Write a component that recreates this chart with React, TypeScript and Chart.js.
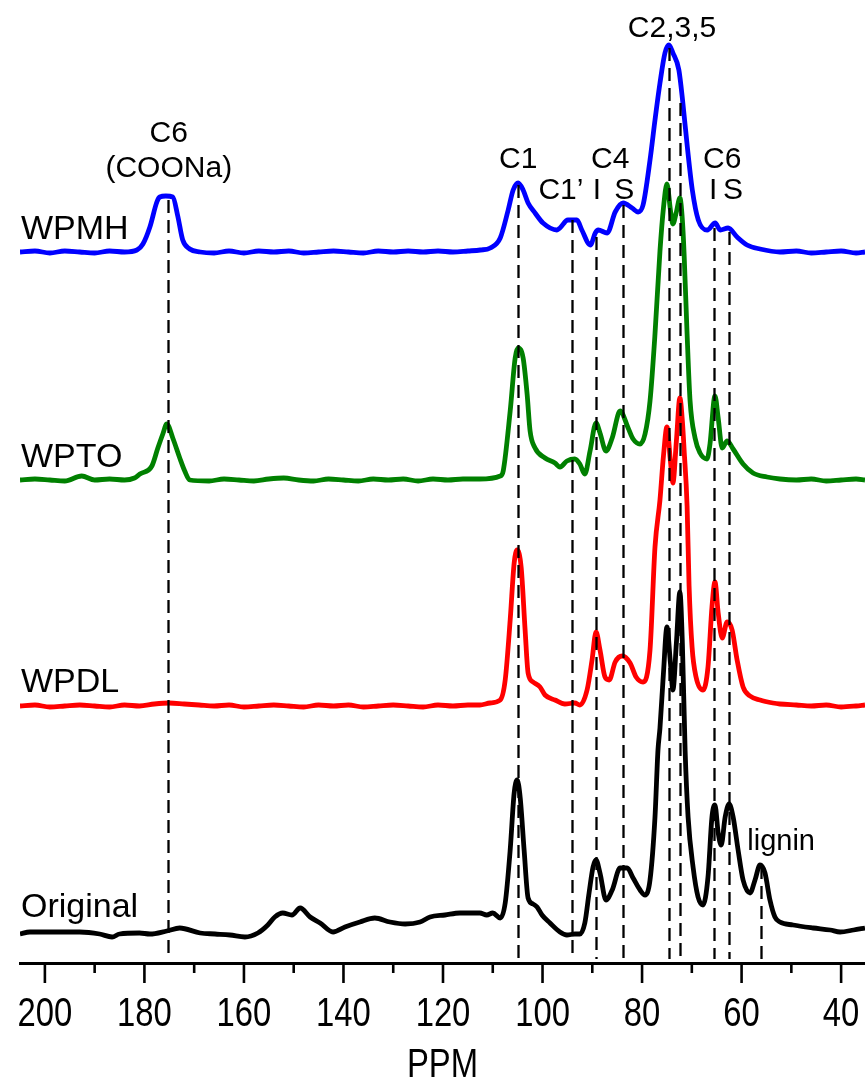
import React, { useEffect, useRef } from 'react';
import { Chart, registerables } from 'chart.js';

Chart.register(...registerables);

// ---------- axis ----------
const xMin = 35.2;
const xMax = 205;
const majorTicks = [200, 180, 160, 140, 120, 100, 80, 60, 40];
const minorTicks = [190, 170, 150, 130, 110, 90, 70, 50];
const axisTitle = 'PPM';

// ---------- series ----------
const seriesNames = ['WPMH', 'WPTO', 'WPDL', 'Original'];
const seriesColors = ['#0000ff', '#008000', '#ff0000', '#000000'];
const seriesOffsets = [711, 483, 257, 30];

const wpmhPpm = [205, 202, 199, 196, 193, 190, 187, 184, 181.5, 180.3, 178.9, 177.5, 176.9, 175.7, 174.3, 173.3, 172.3, 170.9, 168.8, 166, 163, 160, 157, 154, 151, 148, 145, 142, 139, 136, 133, 130, 127, 124, 121, 118, 115, 112.5, 110.5, 108.5, 106.9, 105.9, 104.9, 103.9, 102.9, 101.5, 99.9, 97.1, 96.5, 94.9, 93.1, 92.1, 90.4, 89.4, 88.8, 87.0, 85.4, 83.8, 82.0, 80.8, 79.8, 78.4, 77.4, 76.4, 75.4, 74.6, 73.8, 72.6, 71.8, 70.9, 69.9, 68.7, 66.9, 65.3, 64.3, 62.7, 60.9, 58.9, 56.3, 52.3, 49, 46, 43, 40, 37, 35.2];
const wpmhInt = [0, 1, -1, 1, 0, -1, 1, 0, 2, 8, 25, 50, 55, 56, 55, 36, 12, 3, 0, -1, 1, -1, 1, 0, 1, -1, 0, 1, 0, -1, 1, 0, 1, 0, 1, 0, 1, 2, 4, 14, 42, 62, 69, 62, 49, 39, 29, 22, 24, 32, 32, 22, 7, 19, 22, 19, 40, 49, 44, 40, 47, 92, 132, 169, 199, 207, 199, 182, 149, 105, 62, 32, 22, 29, 22, 24, 15, 7, 3, 0, 1, -1, 0, 1, -1, 0];

const wptoPpm = [205, 202, 199, 196, 192.6, 190, 187, 184, 182, 180.9, 178.5, 177.3, 176.3, 175.5, 174.3, 172.9, 171.9, 170.9, 167, 164, 161, 158, 155, 152, 149, 146, 143, 140, 137, 134, 131, 128, 125, 122, 119, 116, 112.6, 108.5, 107.9, 106.5, 105.5, 104.9, 103.9, 103.1, 102.5, 101.5, 99.5, 97.5, 96.5, 95.1, 93.5, 92.5, 91.5, 90.45, 89.25, 88.45, 87.25, 86.0, 84.4, 82.8, 81.8, 80.4, 79.4, 78.4, 77.4, 76.4, 75.7, 75.0, 74.3, 73.8, 73.1, 72.4, 71.9, 71.55, 70.95, 70.35, 69.35, 68.35, 66.95, 66.35, 65.35, 64.7, 63.9, 62.9, 61.7, 59.7, 57.7, 54.9, 52.3, 49, 46, 43, 40, 37, 35.2];
const wptoInt = [0, 1, 0, -1, 4, 0, 1, 0, 2, 6, 14, 32, 46, 56, 42, 22, 9, 0, -1, 1, 0, -1, 1, 2, 0, -1, 1, 0, -1, 1, 0, 1, -1, 1, 0, 1, 1, 4, 9, 69, 122, 132, 122, 86, 49, 32, 22, 17, 13, 19, 21, 16, 6, 29, 57, 47, 29, 42, 69, 52, 41, 36, 46, 79, 146, 229, 272, 296, 270, 256, 268, 282, 260, 226, 146, 79, 42, 27, 21, 36, 84, 62, 32, 39, 31, 16, 7, 3, 1, 0, 1, -1, 0, 1, 0];

const wpdlPpm = [205, 202, 199, 196, 193, 190, 187, 184, 181, 178, 175, 172, 169, 166, 163, 160, 157, 154, 151, 148, 145, 142, 139, 136, 133, 130, 127, 124, 121, 118, 115, 112.6, 110.55, 108.5, 107.5, 106.5, 105.7, 105.1, 104.3, 103.5, 102.9, 101.9, 100.5, 99.5, 97.5, 95.5, 93.5, 92.5, 91.05, 90.05, 89.25, 88.45, 87.45, 86.6, 85.4, 84.0, 82.4, 81.2, 79.8, 78.4, 77.4, 76.4, 75.7, 75.0, 74.3, 73.8, 73.1, 72.4, 71.9, 71.55, 70.95, 70.55, 69.95, 69.15, 67.75, 66.75, 65.95, 65.35, 64.7, 63.9, 62.9, 61.9, 60.9, 59.7, 58.3, 56.3, 53.7, 52.3, 49, 46, 43, 40, 37, 35.2];
const wpdlInt = [0, 1, -1, 0, 1, 0, -1, 1, 0, 2, 3, 2, 1, 0, 1, -1, 0, 1, 0, -1, 1, 0, 1, -1, 0, 1, 0, -1, 1, 0, 1, 1, 3, 6, 26, 86, 143, 156, 139, 76, 33, 24, 19, 11, 6, 2, 3, 1, 16, 46, 74, 56, 29, 26, 44, 50, 43, 29, 24, 56, 159, 206, 250, 279, 245, 223, 265, 308, 285, 256, 200, 120, 59, 29, 16, 39, 99, 124, 93, 68, 84, 76, 46, 19, 10, 6, 3, 2, 1, 0, 1, -1, 0, 1];

const origPpm = [205, 203, 199, 193, 189, 186.5, 185, 181, 178.9, 175.5, 172.9, 168.8, 165.8, 162.8, 159.8, 157.2, 155.2, 153.8, 152.2, 150.35, 148.7, 146.7, 144.7, 142.1, 139.7, 136.7, 133.7, 130.65, 127.6, 124.6, 122.6, 119.6, 116.6, 112.6, 111.2, 110, 108.5, 107.5, 106.5, 105.7, 105.1, 104.5, 103.7, 102.9, 101.9, 101.1, 100.1, 98.5, 96.5, 95.1, 93.5, 92.5, 91.5, 90.65, 89.85, 89.25, 88.45, 87.25, 86.0, 84.4, 83.0, 81.8, 80.4, 79.4, 78.4, 77.4, 76.8, 76.4, 75.7, 75.0, 74.3, 73.8, 73.1, 72.4, 71.9, 71.35, 70.75, 69.75, 68.75, 67.75, 66.75, 65.95, 65.35, 64.7, 64.1, 63.3, 62.5, 61.7, 60.7, 59.7, 58.3, 57.3, 56.3, 55.3, 54.3, 53.3, 52.3, 49.65, 45.6, 42.2, 40.2, 37.5, 35.2];
const origInt = [-1, 1, 1, 1, -1, -4, -1, 0, -1, 2, 5, 0, -1, -2, -4, 0, 8, 16, 20, 18, 25, 16, 10, 1, 6, 11, 15, 11, 9, 11, 16, 18, 20, 20, 18, 20, 15, 30, 83, 140, 153, 136, 83, 35, 29, 26, 18, 10, 1, -2, -1, -1, 10, 40, 66, 73, 60, 33, 43, 65, 65, 55, 43, 38, 53, 116, 183, 205, 260, 306, 270, 243, 290, 341, 290, 183, 116, 66, 36, 28, 56, 116, 128, 100, 88, 116, 129, 116, 83, 53, 40, 53, 68, 60, 33, 16, 11, 8, 5, 3, 1, 3, 5];

const seriesPpm = [wpmhPpm, wptoPpm, wpdlPpm, origPpm];
const seriesInt = [wpmhInt, wptoInt, wpdlInt, origInt];

// ---------- reference lines ----------
const dashPpm = [175.3, 105.0, 94.0, 89.2, 83.9, 74.6, 72.3, 65.5, 62.5, 56.0];
const dashTop = [763, 778, 743, 726, 758, 915, 860, 735, 731, 97];

// ---------- annotations ----------
const peakLabels = ['C6', '(COONa)', 'C1', 'C1\u2019', 'I', 'C4', 'S', 'C2,3,5', 'C6', 'I', 'S', 'lignin'];
const peakLabelPpm = [175.1, 175.1, 104.9, 96.3, 89.05, 86.4, 83.6, 73.97, 63.9, 65.7, 61.7, 52.06];
const peakLabelY = [821, 786, 795, 764, 764, 795, 764, 926, 795, 764, 764, 113];
const nameLabelPpm = 204.8;
const nameLabelY = [724, 496, 271, 46];

const SANS = '"Liberation Sans", Arial, Helvetica, sans-serif';

function narrowText(ctx: CanvasRenderingContext2D, text: string, x: number, y: number) {
  ctx.save();
  ctx.translate(x, y);
  ctx.scale(0.82, 1);
  ctx.fillText(text, 0, 0);
  ctx.restore();
}

const overlayPlugin = {
  id: 'overlay',
  afterDatasetsDraw(chart: any) {
    const { ctx, scales } = chart;
    const x = scales.x;
    const y = scales.y;
    ctx.save();
    // dashed reference lines
    ctx.strokeStyle = '#000';
    ctx.lineWidth = 2.3;
    ctx.setLineDash([13, 7]);
    dashPpm.forEach((p, i) => {
      const px = Math.round(x.getPixelForValue(p)) + 0.5;
      ctx.beginPath();
      ctx.moveTo(px, y.getPixelForValue(dashTop[i]));
      ctx.lineTo(px, y.getPixelForValue(4));
      ctx.stroke();
    });
    ctx.setLineDash([]);
    // ticks
    const axisY = x.top;
    ctx.lineWidth = 2.6;
    majorTicks.forEach((v) => {
      const px = x.getPixelForValue(v);
      ctx.beginPath();
      ctx.moveTo(px, axisY);
      ctx.lineTo(px, axisY + 20);
      ctx.stroke();
    });
    minorTicks.forEach((v) => {
      const px = x.getPixelForValue(v);
      ctx.beginPath();
      ctx.moveTo(px, axisY);
      ctx.lineTo(px, axisY + 10);
      ctx.stroke();
    });
    // tick labels and axis title (Helvetica-narrow look)
    ctx.fillStyle = '#000';
    ctx.textBaseline = 'alphabetic';
    ctx.textAlign = 'center';
    ctx.font = '40px ' + SANS;
    majorTicks.forEach((v) => {
      narrowText(ctx, String(v), x.getPixelForValue(v), axisY + 63);
    });
    narrowText(ctx, axisTitle, (x.left + x.right) / 2, axisY + 114);
    // labels
    peakLabels.forEach((t, i) => {
      ctx.font = (t === 'lignin' ? '29px ' : '30px ') + SANS;
      ctx.fillText(t, x.getPixelForValue(peakLabelPpm[i]), y.getPixelForValue(peakLabelY[i]));
    });
    ctx.textAlign = 'left';
    ctx.font = '34px ' + SANS;
    seriesNames.forEach((t, i) => {
      ctx.fillText(t, x.getPixelForValue(nameLabelPpm), y.getPixelForValue(nameLabelY[i]));
    });
    ctx.restore();
  },
};

export default function App() {
  const ref = useRef<HTMLCanvasElement | null>(null);
  useEffect(() => {
    if (!ref.current) return;
    const datasets = seriesNames.map((name, s) => ({
      label: name,
      data: seriesPpm[s].map((p, i) => ({ x: p, y: seriesOffsets[s] + seriesInt[s][i] })),
      borderColor: seriesColors[s],
      backgroundColor: seriesColors[s],
      borderWidth: 4.8,
      pointRadius: 0,
      cubicInterpolationMode: 'monotone' as const,
      fill: false,
    }));
    const chart = new Chart(ref.current, {
      type: 'line',
      data: { datasets },
      plugins: [overlayPlugin],
      options: {
        animation: false,
        responsive: false,
        devicePixelRatio: 1,
        layout: { padding: { left: 20, right: 0, top: 0, bottom: 0 } },
        plugins: { legend: { display: false }, tooltip: { enabled: false } },
        scales: {
          x: {
            type: 'linear',
            min: xMin,
            max: xMax,
            reverse: true,
            position: 'bottom',
            grid: { display: false, drawTicks: false },
            border: { display: true, color: '#000', width: 3 },
            afterBuildTicks: (scale: any) => {
              scale.ticks = majorTicks.map((v) => ({ value: v }));
            },
            afterFit: (scale: any) => {
              scale.height = 115;
              scale.paddingLeft = 0;
              scale.paddingRight = 0;
            },
            ticks: { display: false },
            title: { display: false },
          },
          y: { type: 'linear', display: false, min: 0, max: 963 },
        },
      },
    });
    return () => chart.destroy();
  }, []);
  return (
    <div style={{ position: 'absolute', left: 0, top: 0, width: 865, height: 1078, background: '#fff' }}>
      <canvas ref={ref} width={865} height={1078} style={{ display: 'block', width: 865, height: 1078 }} />
    </div>
  );
}
